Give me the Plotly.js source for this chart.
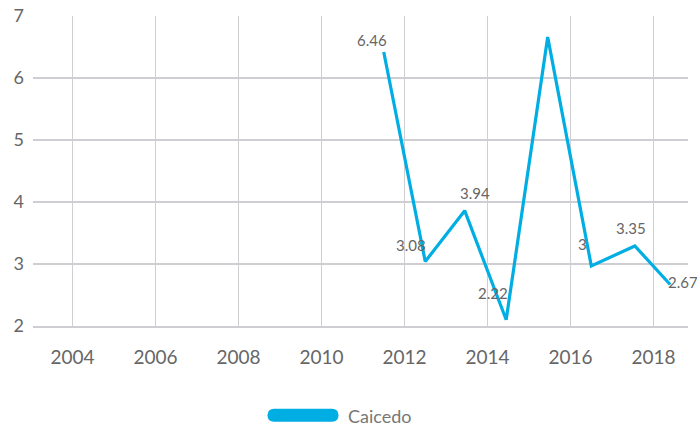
<!DOCTYPE html>
<html>
<head>
<meta charset="utf-8">
<script src="https://cdn.plot.ly/plotly-3.0.1.min.js"></script>
<style>html,body{margin:0;padding:0;background:#fff}#chart{width:697px;height:428px}</style>
</head>
<body>
<div id="chart"></div>
<script>
// Data
const seriesName = 'Caicedo';
const years = [2011.5, 2012.5, 2013.45, 2014.45, 2015.45, 2016.5, 2017.55, 2018.4];
const values = [6.42, 3.04, 3.86, 2.10, 6.66, 2.97, 3.29, 2.67];
const valueLabels = ['6.46', '3.08', '3.94', '2.22', '', '3', '3.35', '2.67'];
const xTickYears = [2004, 2006, 2008, 2010, 2012, 2014, 2016, 2018];
const yTickValues = [2, 3, 4, 5, 6, 7];

// Label placement (style, pixels)
const labelShiftX = [-12, -14, 10, -13, 0, -9, -4, 13];
const labelShiftY = [12, 17, 18, 27, 0, 22, 18, 2];

const FONT = 'Lato, "Open Sans", sans-serif';
const LINE = '#00aee3';
const GRID = '#cfcfd3';

// plot area: top 16px, bottom 326.5px -> paper y of a pixel row
const plotTop = 16, plotBottom = 326.5;
const pyr = (py) => (plotBottom - py) / (plotBottom - plotTop);
const plotLeft = 33, plotRight = 688;
const pxr = (px) => (px - plotLeft) / (plotRight - plotLeft);

const annotations = [];
years.forEach((x, i) => {
  if (!valueLabels[i]) return;
  annotations.push({
    x: x, y: values[i], xref: 'x', yref: 'y', text: valueLabels[i],
    showarrow: false, xanchor: 'center', yanchor: 'middle',
    xshift: labelShiftX[i], yshift: labelShiftY[i],
    font: {family: FONT, size: 15, color: '#666666'}
  });
});
annotations.push({
  x: pxr(346), y: pyr(417), xref: 'paper', yref: 'paper', text: seriesName,
  showarrow: false, xanchor: 'left', yanchor: 'middle',
  font: {family: FONT, size: 18, color: '#777777'}
});

const shapes = [{
  type: 'path', xref: 'paper', yref: 'paper',
  xsizemode: 'pixel', ysizemode: 'pixel', xanchor: pxr(303), yanchor: pyr(416),
  path: 'M-29,-6.5 L29,-6.5 Q35.5,-6.5 35.5,0 Q35.5,6.5 29,6.5 L-29,6.5 Q-35.5,6.5 -35.5,0 Q-35.5,-6.5 -29,-6.5 Z',
  fillcolor: LINE, line: {width: 0}
}];

const trace = {
  x: years, y: values, type: 'scatter', mode: 'lines', name: seriesName,
  line: {color: LINE, width: 3.2}, hoverinfo: 'skip', showlegend: false
};

const layout = {
  width: 697, height: 428,
  margin: {l: plotLeft, r: 697 - plotRight, t: plotTop, b: 428 - plotBottom},
  paper_bgcolor: '#ffffff', plot_bgcolor: '#ffffff',
  showlegend: false,
  font: {family: FONT, color: '#666666'},
  xaxis: {
    range: [2003.05, 2018.83], tickvals: xTickYears, ticktext: xTickYears.map(String),
    showgrid: true, gridcolor: GRID, gridwidth: 1.5,
    showline: true, linecolor: GRID, linewidth: 1.5,
    zeroline: false, ticks: '', ticklabelstandoff: 14,
    tickfont: {family: FONT, size: 19, color: '#666666'}
  },
  yaxis: {
    range: [2, 7], tickvals: yTickValues, ticktext: yTickValues.map(String),
    showgrid: true, gridcolor: GRID, gridwidth: 1.5,
    showline: false, zeroline: false, ticks: '', ticklabelstandoff: 8,
    tickfont: {family: FONT, size: 18, color: '#666666'}
  },
  annotations: annotations,
  shapes: shapes
};

Plotly.newPlot('chart', [trace], layout, {displayModeBar: false, staticPlot: true});
</script>
</body>
</html>
